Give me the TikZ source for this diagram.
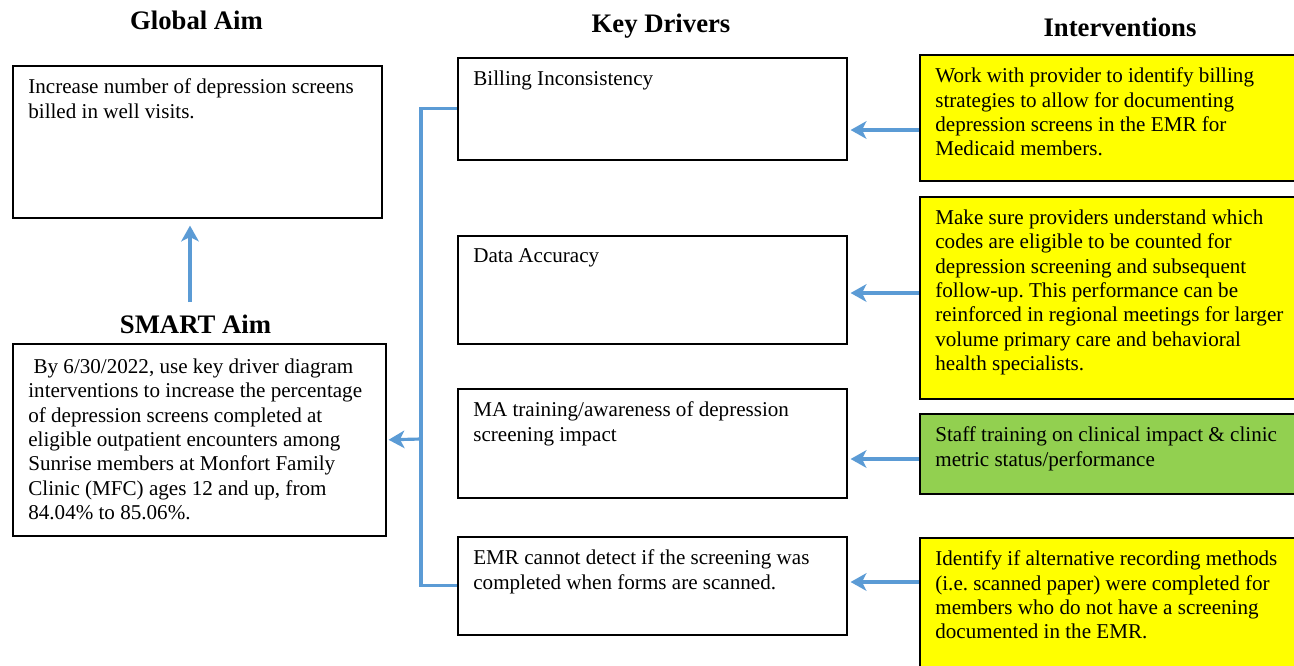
\documentclass[tikz,border=0pt]{standalone}
\usepackage{fontspec}
\setmainfont{Liberation Serif}
\usetikzlibrary{arrows.meta}
\definecolor{bleu}{HTML}{5B9BD5}
\definecolor{jaune}{HTML}{FFFF00}
\definecolor{vert}{HTML}{92D050}
\frenchspacing
\begin{document}
\begin{tikzpicture}

% définition des styles
\tikzstyle{boite}=[draw,line width=0.9pt,rectangle,anchor=north west,inner sep=0pt]
\tikzstyle{texte}=[anchor=north west,align=left,inner sep=0pt,xshift=3.2mm,yshift=-2.7mm,font=\fontsize{12pt}{13.85pt}\selectfont]
\tikzstyle{titre}=[anchor=base,font=\fontsize{15.2pt}{18pt}\selectfont\bfseries]
\tikzstyle{lien}=[bleu,line width=1.8pt]
\tikzstyle{fleche}=[-{Stealth[length=9pt,width=10pt,inset=2.5pt]},bleu,line width=1.8pt]

% cadre
\useasboundingbox (0,0) rectangle (25.88,-13.30);
\clip (0,0) rectangle (25.88,-13.30);

% les titres
\node[titre] (titreglobal) at (3.93,-0.58) {Global Aim};
\node[titre] (titresmart) at (3.91,-6.66) {SMART Aim};
\node[titre] (titrecles) at (13.22,-0.64) {Key Drivers};
\node[titre] (titreinter) at (22.40,-0.72) {Interventions};

% les objectifs
\node[boite,minimum width=7.38cm,minimum height=3.04cm] (gaim) at (0.24,-1.30) {};
\node[boite,minimum width=7.46cm,minimum height=3.84cm] (smart) at (0.24,-6.86) {};
\node[texte] (gaimtxt) at (gaim.north west) {Increase number of depression screens\\billed in well visits.};
\node[texte,yshift=-0.4mm] (smarttxt) at (smart.north west) {\hspace*{0.25em}By 6/30/2022, use key driver diagram\\interventions to increase the percentage\\of depression screens completed at\\eligible outpatient encounters among\\Sunrise members at Monfort Family\\Clinic (MFC) ages 12 and up, from\\84.04\% to 85.06\%.};

% les leviers
\node[boite,minimum width=7.78cm,minimum height=2.04cm] (kd1) at (9.14,-1.14) {};
\node[boite,minimum width=7.78cm,minimum height=2.16cm] (kd2) at (9.14,-4.70) {};
\node[boite,minimum width=7.78cm,minimum height=2.18cm] (kd3) at (9.14,-7.76) {};
\node[boite,minimum width=7.78cm,minimum height=1.96cm] (kd4) at (9.14,-10.72) {};
\node[texte] (kd1txt) at (kd1.north west) {Billing Inconsistency};
\node[texte] (kd2txt) at (kd2.north west) {Data Accuracy};
\node[texte] (kd3txt) at (kd3.north west) {MA training/awareness of depression\\screening impact};
\node[texte] (kd4txt) at (kd4.north west) {EMR cannot detect if the screening was\\completed when forms are scanned.};

% les interventions
\node[boite,fill=jaune,minimum width=7.70cm,minimum height=2.52cm] (iv1) at (18.38,-1.08) {};
\node[boite,fill=jaune,minimum width=7.70cm,minimum height=4.04cm] (iv2) at (18.38,-3.92) {};
\node[boite,fill=vert,minimum width=7.70cm,minimum height=1.60cm] (iv3) at (18.38,-8.26) {};
\node[boite,fill=jaune,minimum width=7.70cm,minimum height=3.00cm] (iv4) at (18.38,-10.74) {};
\node[texte] (iv1txt) at (iv1.north west) {Work with provider to identify billing\\strategies to allow for documenting\\depression screens in the EMR for\\Medicaid members.};
\node[texte] (iv2txt) at (iv2.north west) {Make sure providers understand which\\codes are eligible to be counted for\\depression screening and subsequent\\follow-up. This performance can be\\reinforced in regional meetings for larger\\volume primary care and behavioral\\health specialists.};
\node[texte] (iv3txt) at (iv3.north west) {Staff training on clinical impact \& clinic\\metric status/performance};
\node[texte] (iv4txt) at (iv4.north west) {Identify if alternative recording methods\\(i.e.\ scanned paper) were completed for\\members who do not have a screening\\documented in the EMR.};

% les flèches
\coordinate (depart) at (3.80,-6.04);
\draw[fleche] (depart) -- ([yshift=-1.4mm]depart |- gaim.south);
\draw[lien] (kd1.west) -- ++(-0.72,0) |- (kd4.west);
\coordinate (jonction) at (8.42,-8.78);
\draw[fleche] (jonction) -- ([xshift=0.4mm]smart.east);

\draw[fleche] (iv1.west |- 0,-2.60) -- ([xshift=0.6mm]kd1.east |- 0,-2.60);
\draw[fleche] (iv2.west |- 0,-5.86) -- ([xshift=0.6mm]kd2.east |- 0,-5.86);
\draw[fleche] (iv3.west |- 0,-9.18) -- ([xshift=0.6mm]kd3.east |- 0,-9.18);
\draw[fleche] (iv4.west |- 0,-11.64) -- ([xshift=0.6mm]kd4.east |- 0,-11.64);

\end{tikzpicture}
\end{document}
